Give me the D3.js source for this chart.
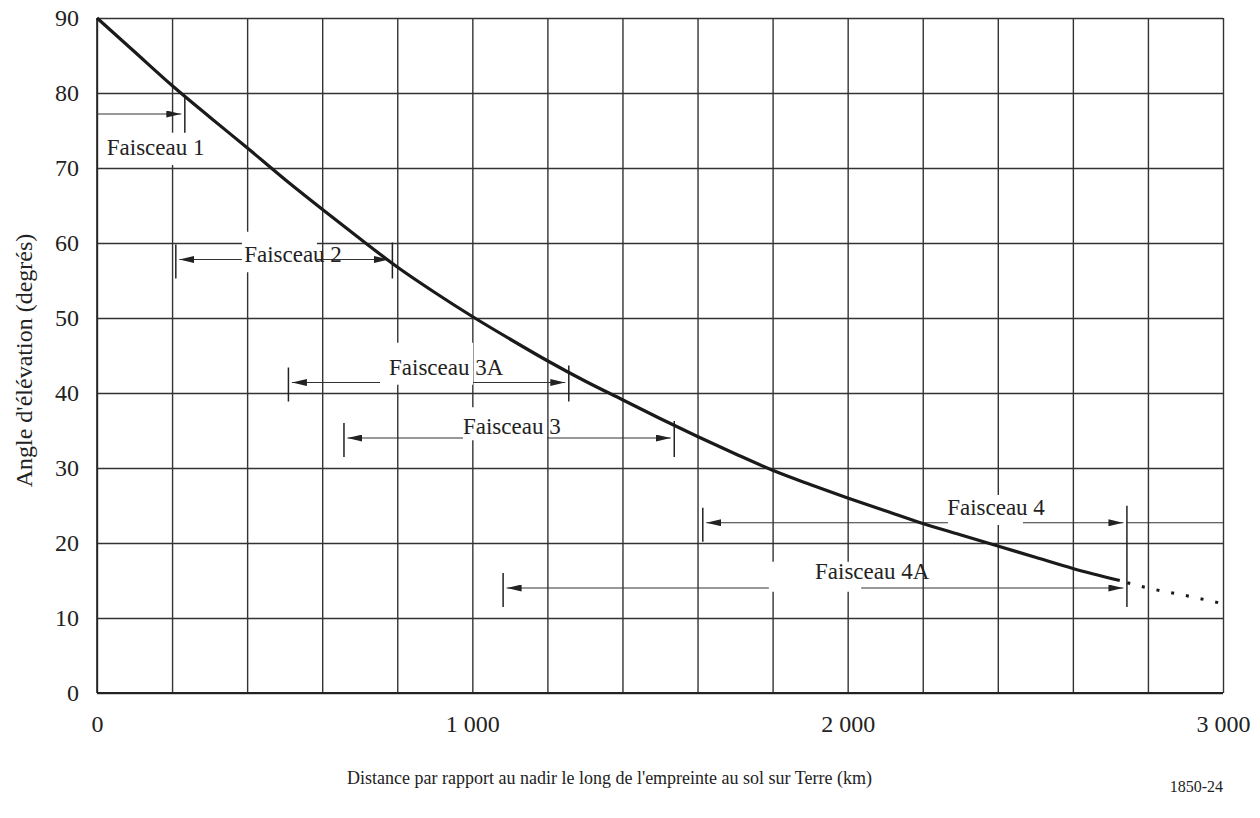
<!DOCTYPE html>
<html>
<head>
<meta charset="utf-8">
<script src="https://cdn.jsdelivr.net/npm/d3@7/dist/d3.min.js"></script>
<style>
  html, body { margin: 0; padding: 0; background: #fff; }
  svg { display: block; }
  text { font-family: "Liberation Serif", "Times New Roman", serif; fill: #222; }
</style>
</head>
<body>
<svg id="chart" width="1260" height="818"></svg>
<script>
// ---------- data ----------
const distKm = [0, 100, 200, 300, 400, 500, 600, 700, 800, 900, 1000, 1100, 1200, 1300, 1400,
                1500, 1600, 1700, 1800, 1900, 2000, 2100, 2200, 2300, 2400, 2500, 2600, 2725];
const elevDeg = [90, 85.5, 81.0, 76.8, 72.7, 68.5, 64.5, 60.6, 56.8, 53.4, 50.2, 47.2, 44.3, 41.6, 39.1,
                 36.6, 34.2, 31.9, 29.7, 27.8, 26.0, 24.3, 22.6, 21.1, 19.6, 18.1, 16.6, 15.0];
const dotKm = [2745, 2800, 2900, 3000];
const dotDeg = [14.7, 14.0, 13.0, 11.9];

const beamNames = ["Faisceau 1", "Faisceau 2", "Faisceau 3A", "Faisceau 3", "Faisceau 4", "Faisceau 4A"];
const beamStartKm = [0, 210, 510, 658, 1614, 1082];
const beamEndKm = [234, 787, 1257, 1538, 2744, 2744];
const beamLevelDeg = [77.2, 57.8, 41.4, 34.0, 22.7, 14.0];
const beamTailKm = [null, null, null, null, 3000, null];
const beamLabelKm = [26, 392, 778, 975, 2265, 1913];
const beamLabelDeg = [71.7, 57.5, 42.4, 34.6, 23.7, 15.2];
const maskKm0 = [21, 386, 754, 975, 2267, 1790];
const maskKm1 = [301, 586, 1002, 1199, 2467, 2036];
const maskDeg0 = [70.4, 56.1, 41.1, 33.7, 22.4, 13.5];
const maskDeg1 = [74.7, 61.5, 46.7, 38.1, 26.4, 17.5];

const xGridValues = [0, 200, 400, 600, 800, 1000, 1200, 1400, 1600, 1800, 2000, 2200, 2400, 2600, 2800, 3000];
const xTickValues = [0, 1000, 2000, 3000];
const xTickLabels = ["0", "1 000", "2 000", "3 000"];
const yTickValues = [0, 10, 20, 30, 40, 50, 60, 70, 80, 90];
const yTickLabels = ["0", "10", "20", "30", "40", "50", "60", "70", "80", "90"];

const xTitle = "Distance par rapport au nadir le long de l'empreinte au sol sur Terre (km)";
const yTitle = "Angle d'élévation (degrés)";
const figNo = "1850-24";

// ---------- layout ----------
const FONT = "'Liberation Serif', 'Times New Roman', serif";
const W = 1260, H = 818;
const m = { left: 97, top: 18, right: 37, bottom: 125 };
const pw = W - m.left - m.right, ph = H - m.top - m.bottom;

const svg = d3.select("#chart");
const x = d3.scaleLinear().domain([0, 3000]).range([m.left, m.left + pw]);
const y = d3.scaleLinear().domain([0, 90]).range([m.top + ph, m.top]);

const defs = svg.append("defs");
defs.append("marker")
  .attr("id", "arr").attr("viewBox", "0 0 15 7")
  .attr("refX", 15).attr("refY", 3.5)
  .attr("markerWidth", 15).attr("markerHeight", 7)
  .attr("markerUnits", "userSpaceOnUse")
  .attr("orient", "auto-start-reverse")
  .append("path").attr("d", "M0,0 L15,3.5 L0,7 Z").attr("fill", "#222");

// ---------- grid ----------
const gridColor = "#333";
const gx = svg.append("g")
  .attr("transform", `translate(0,${m.top + ph})`)
  .call(d3.axisBottom(x).tickValues(xGridValues).tickSize(-ph).tickFormat(""));
gx.select(".domain").remove();
gx.selectAll(".tick line").attr("stroke", gridColor).attr("stroke-width", 1.4);

const gy = svg.append("g")
  .attr("transform", `translate(${m.left},0)`)
  .call(d3.axisLeft(y).tickValues(yTickValues).tickSize(-pw).tickFormat(""));
gy.select(".domain").remove();
gy.selectAll(".tick line").attr("stroke", gridColor).attr("stroke-width", 1.4);

// axis lines (slightly heavier)
svg.append("line").attr("x1", x(0)).attr("x2", x(3000)).attr("y1", y(0)).attr("y2", y(0))
  .attr("stroke", "#222").attr("stroke-width", 2);
svg.append("line").attr("x1", x(0)).attr("x2", x(0)).attr("y1", y(0)).attr("y2", y(90))
  .attr("stroke", "#222").attr("stroke-width", 1.6);

// ---------- tick labels ----------
const ax = svg.append("g")
  .attr("transform", `translate(0,${m.top + ph})`)
  .call(d3.axisBottom(x).tickValues(xTickValues).tickSize(0).tickPadding(22)
        .tickFormat((d, i) => xTickLabels[i]));
ax.select(".domain").remove();
ax.attr("font-family", FONT);
ax.selectAll("text").attr("font-size", 24).attr("fill", "#222").attr("font-family", FONT);

const ay = svg.append("g")
  .attr("transform", `translate(${m.left},0)`)
  .call(d3.axisLeft(y).tickValues(yTickValues).tickSize(0).tickPadding(18)
        .tickFormat((d, i) => yTickLabels[i]));
ay.select(".domain").remove();
ay.attr("font-family", FONT);
ay.selectAll("text").attr("font-size", 24).attr("fill", "#222").attr("font-family", FONT);

// ---------- beams ----------
const beams = beamNames.map((n, i) => ({
  name: n, s: beamStartKm[i], e: beamEndKm[i], lv: beamLevelDeg[i], tail: beamTailKm[i],
  lx: beamLabelKm[i], ly: beamLabelDeg[i],
  mk0: maskKm0[i], mk1: maskKm1[i], md0: maskDeg0[i], md1: maskDeg1[i]
}));

const bg = svg.append("g");
beams.forEach(b => {
  const yy = y(b.lv);
  const xs = x(b.s), xe = x(b.e);
  const gapS = b.s === 0 ? 0 : 3.5;
  const line = bg.append("line")
    .attr("x1", xs + gapS).attr("x2", xe - 3.5).attr("y1", yy).attr("y2", yy)
    .attr("stroke", "#333").attr("stroke-width", 1.1)
    .attr("marker-end", "url(#arr)");
  if (b.s !== 0) line.attr("marker-start", "url(#arr)");
  if (b.tail !== null) {
    bg.append("line").attr("x1", xe).attr("x2", x(b.tail)).attr("y1", yy).attr("y2", yy)
      .attr("stroke", "#333").attr("stroke-width", 1.1);
  }
});

// end ticks (merged when two beams share an end)
const tickMarks = [];
beams.forEach(b => {
  if (b.s !== 0) tickMarks.push({ km: b.s, y0: y(b.lv) - 15, y1: y(b.lv) + 19 });
  tickMarks.push({ km: b.e, y0: y(b.lv) - 17, y1: y(b.lv) + 19 });
});
const merged = d3.rollups(tickMarks, v => ({ y0: d3.min(v, d => d.y0), y1: d3.max(v, d => d.y1) }), d => d.km);
merged.forEach(([km, r]) => {
  bg.append("line").attr("x1", x(km)).attr("x2", x(km)).attr("y1", r.y0).attr("y2", r.y1)
    .attr("stroke", "#222").attr("stroke-width", 1.5);
});

// label masks + labels
beams.forEach(b => {
  bg.append("rect")
    .attr("x", x(b.mk0)).attr("y", y(b.md1))
    .attr("width", x(b.mk1) - x(b.mk0)).attr("height", y(b.md0) - y(b.md1))
    .attr("fill", "#fff");
});
beams.forEach(b => {
  bg.append("text").attr("x", x(b.lx)).attr("y", y(b.ly))
    .attr("font-family", FONT).attr("font-size", 23).text(b.name);
});

// ---------- curve ----------
const curve = distKm.map((d, i) => [d, elevDeg[i]]);
const dots = dotKm.map((d, i) => [d, dotDeg[i]]);
const lineGen = d3.line().x(d => x(d[0])).y(d => y(d[1])).curve(d3.curveMonotoneX);

svg.append("path").datum(curve).attr("d", lineGen)
  .attr("fill", "none").attr("stroke", "#1a1a1a").attr("stroke-width", 3.2)
  .attr("stroke-linecap", "butt");
svg.append("path").datum(dots).attr("d", lineGen)
  .attr("fill", "none").attr("stroke", "#1a1a1a").attr("stroke-width", 3)
  .attr("stroke-dasharray", "3,12");

// ---------- titles ----------
svg.append("text")
  .attr("transform", `translate(24,${m.top + ph / 2 + 5}) rotate(-90)`)
  .attr("text-anchor", "middle").attr("dominant-baseline", "central")
  .attr("font-family", FONT).attr("font-size", 24).text(yTitle);

svg.append("text").attr("x", 347).attr("y", 784)
  .attr("font-family", FONT).attr("font-size", 18).text(xTitle);

svg.append("text").attr("x", 1223).attr("y", 792).attr("text-anchor", "end")
  .attr("font-family", FONT).attr("font-size", 16).text(figNo);
</script>
</body>
</html>
